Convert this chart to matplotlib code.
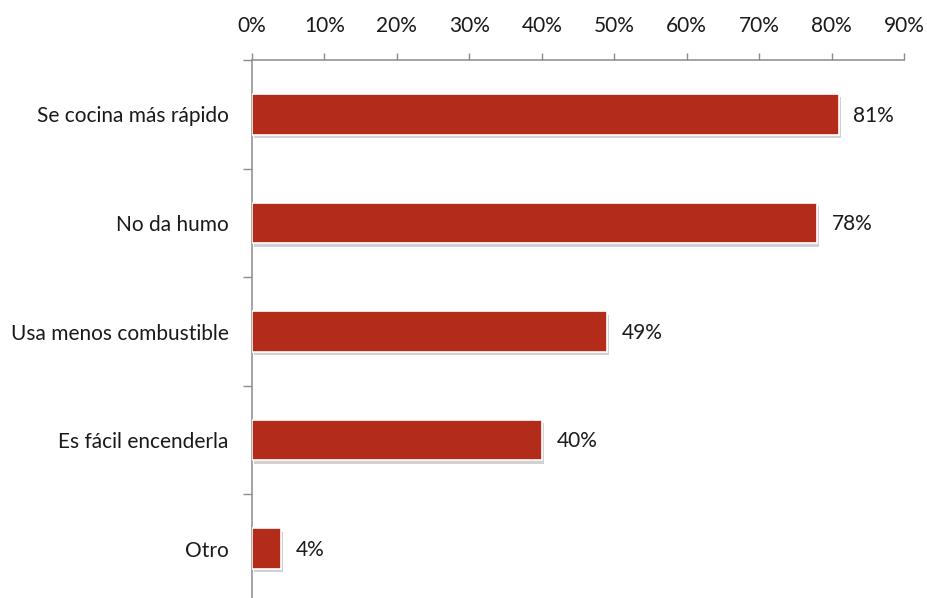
import matplotlib
matplotlib.use("Agg")
import matplotlib.pyplot as plt
import matplotlib.patheffects as pe
from matplotlib.ticker import FixedLocator, PercentFormatter

categories = ["Se cocina más rápido", "No da humo", "Usa menos combustible",
              "Es fácil encenderla", "Otro"]
values = [81, 78, 49, 40, 4]
xticks = [0, 10, 20, 30, 40, 50, 60, 70, 80, 90]

plt.rcParams['font.family'] = ['Lato', 'DejaVu Sans']
FS = 15
TXT = '#1a1a1a'
AX = '#8c8c8c'
BAR = '#B22C19'

fig = plt.figure(figsize=(9.28, 5.98), dpi=100)
ax = fig.add_axes([252/928, 1 - 603/598, (904 - 252)/928, (603 - 60)/598])

n = len(categories)
ypos = list(range(n))
bars = ax.barh(ypos, values, height=0.374, color=BAR, edgecolor='white',
               linewidth=1.2, zorder=3)
for b in bars:
    b.set_path_effects([pe.SimplePatchShadow(offset=(1.5, -2.5), shadow_rgbFace='#9a9a9a', alpha=0.45),
                        pe.Normal()])

for y, v in zip(ypos, values):
    ax.annotate(f"{v}%", xy=(v, y), xytext=(10.5, -1), textcoords='offset points',
                ha='left', va='center', fontsize=FS, color=TXT)

ax.set_xlim(0, 90)
ax.set_ylim(n - 0.5, -0.5)
ax.xaxis.set_major_locator(FixedLocator(xticks))
ax.xaxis.set_major_formatter(PercentFormatter(decimals=0))
ax.xaxis.tick_top()
ax.tick_params(axis='x', which='major', direction='out', length=5, width=1,
               color=AX, pad=12, labelsize=FS, labelcolor=TXT)

ax.set_yticks(ypos)
ax.set_yticklabels(categories)
ax.set_yticks([i + 0.5 for i in range(-1, n)], minor=True)
ax.tick_params(axis='y', which='major', length=0, pad=17, labelsize=FS, labelcolor=TXT)
ax.tick_params(axis='y', which='minor', direction='out', length=6.5, width=1, color=AX)

for s in ['right', 'bottom']:
    ax.spines[s].set_visible(False)
for s in ['top', 'left']:
    ax.spines[s].set_color(AX)
    ax.spines[s].set_linewidth(1.1)

fig.savefig("out.png", dpi=100, facecolor='white')
